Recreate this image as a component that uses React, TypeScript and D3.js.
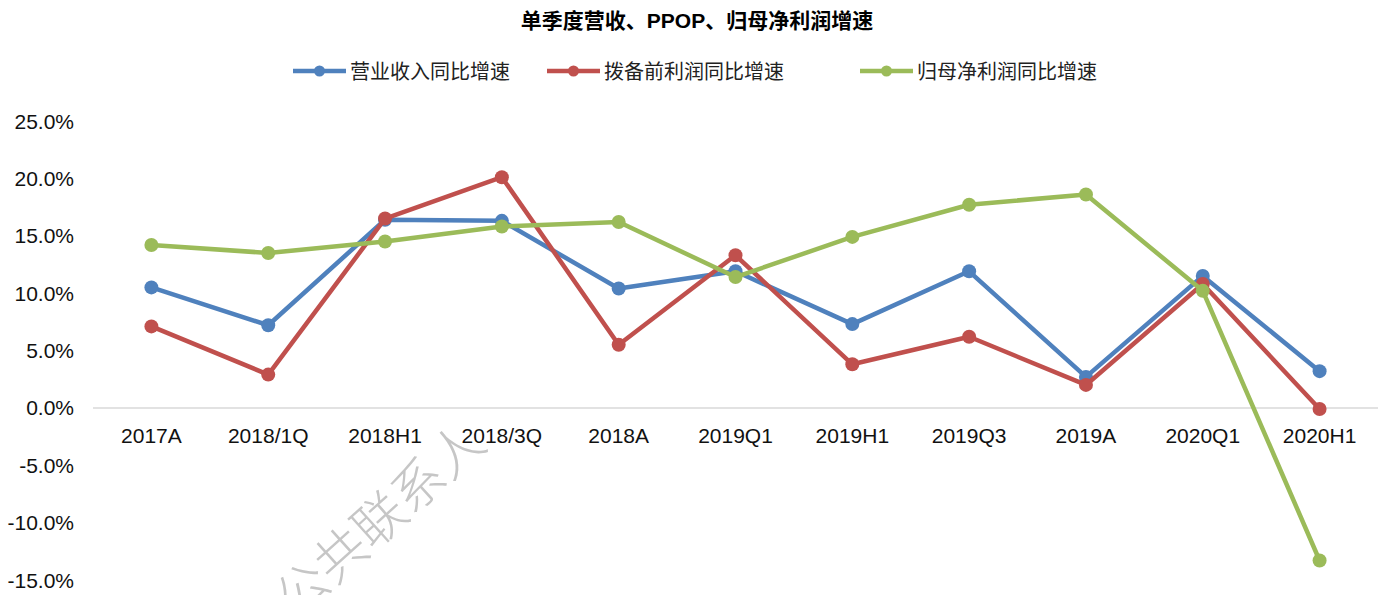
import React, { useEffect, useRef } from 'react';
import * as d3 from 'd3';

const categories = ['2017A', '2018/1Q', '2018H1', '2018/3Q', '2018A', '2019Q1', '2019H1', '2019Q3', '2019A', '2020Q1', '2020H1'];
const revenue = [10.5, 7.2, 16.4, 16.3, 10.4, 11.9, 7.3, 11.9, 2.7, 11.5, 3.2];
const ppop = [7.1, 2.9, 16.5, 20.1, 5.5, 13.3, 3.8, 6.2, 2.0, 10.8, -0.1];
const netProfit = [14.2, 13.5, 14.5, 15.8, 16.2, 11.4, 14.9, 17.7, 18.6, 10.2, -13.3];
const seriesNames = ['营业收入同比增速', '拨备前利润同比增速', '归母净利润同比增速'];
const colors = ['#4f81bd', '#c0504d', '#9bbb59'];
const yTicks = [-15, -10, -5, 0, 5, 10, 15, 20, 25];

const W = 1387;
const H = 595;

const App = () => {
  const ref = useRef<SVGSVGElement>(null);

  useEffect(() => {
    const svg = d3.select(ref.current);
    svg.selectAll('*').remove();

    const x = d3.scaleBand().domain(categories).range([93, 1378]);
    const y = d3.scaleLinear().domain([-15, 25]).range([580, 121]);
    const cx = (c: string) => (x(c) as number) + x.bandwidth() / 2;

    // watermark
    svg.append('text')
      .attr('transform', 'translate(377,517) rotate(-42)')
      .attr('text-anchor', 'middle')
      .attr('dominant-baseline', 'central')
      .attr('font-family', 'Noto Sans CJK SC')
      .attr('font-size', 52)
      .attr('font-weight', 200)
      .attr('fill', '#c6c6c6')
      .text('公共联系人');

    svg.append('text')
      .attr('x', 697).attr('y', 28)
      .attr('text-anchor', 'middle')
      .attr('font-family', 'Liberation Sans, Noto Sans CJK SC')
      .attr('font-weight', 'bold')
      .attr('font-size', 21)
      .text('单季度营收、PPOP、归母净利润增速');

    // legend
    const legendX = [293, 547, 860];
    seriesNames.forEach((name, i) => {
      const g = svg.append('g').attr('transform', `translate(${legendX[i]},71)`);
      g.append('line').attr('x1', 0).attr('x2', 53).attr('stroke', colors[i]).attr('stroke-width', 4.5);
      g.append('circle').attr('cx', 26.5).attr('r', 5.5).attr('fill', colors[i]);
      g.append('text').attr('x', 57).attr('y', 7.5)
        .attr('font-family', 'Noto Sans CJK SC').attr('font-size', 20)
        .attr('fill', '#222').text(name);
    });

    // y axis labels
    svg.append('g').selectAll('text').data(yTicks).enter().append('text')
      .attr('x', 74).attr('y', d => y(d) + 7.5)
      .attr('text-anchor', 'end')
      .attr('font-family', 'Liberation Sans, Arial')
      .attr('font-size', 21)
      .attr('fill', '#111')
      .text(d => d.toFixed(1) + '%');

    // zero line
    svg.append('line')
      .attr('x1', 93).attr('x2', 1378)
      .attr('y1', y(0)).attr('y2', y(0))
      .attr('stroke', '#d9d9d9').attr('stroke-width', 1.5);

    // category labels
    svg.append('g').selectAll('text').data(categories).enter().append('text')
      .attr('x', d => cx(d)).attr('y', 443)
      .attr('text-anchor', 'middle')
      .attr('font-family', 'Liberation Sans, Arial')
      .attr('font-size', 21)
      .attr('fill', '#111')
      .text(d => d);

    const all = [revenue, ppop, netProfit];
    const line = d3.line<number>()
      .x((_, i) => cx(categories[i]))
      .y(d => y(d));

    all.forEach((vals, si) => {
      const g = svg.append('g');
      g.append('path').attr('d', line(vals) as string)
        .attr('fill', 'none').attr('stroke', colors[si]).attr('stroke-width', 4.5)
        .attr('stroke-linejoin', 'round');
      g.selectAll('circle').data(vals).enter().append('circle')
        .attr('cx', (_, i) => cx(categories[i])).attr('cy', d => y(d))
        .attr('r', 7).attr('fill', colors[si]);
    });
  }, []);

  return <svg ref={ref} width={W} height={H} style={{ position: 'absolute', left: 0, top: 0 }} />;
};

export default App;
